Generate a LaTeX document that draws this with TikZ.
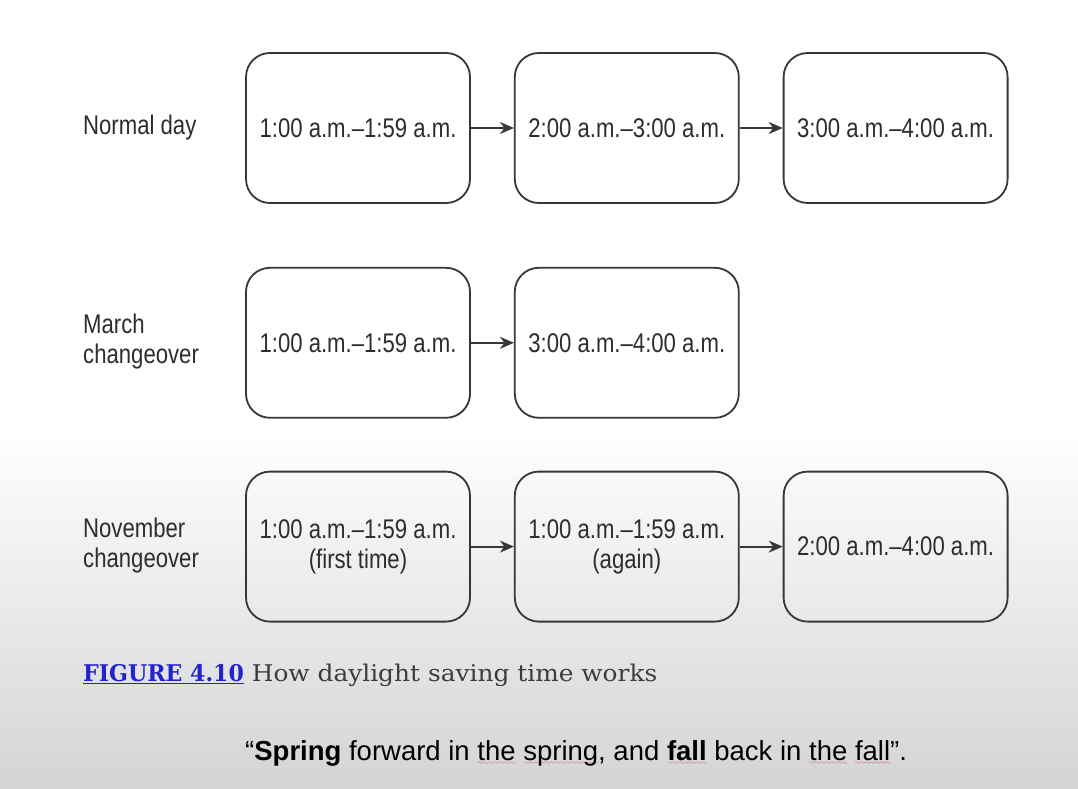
\documentclass[tikz,border=0pt]{standalone}
\usepackage{fontspec}
\setmainfont{Liberation Sans}
\newfontfamily\narrowfont[FakeStretch=0.82]{Liberation Sans}
\newfontfamily\capfont[FakeStretch=1.08]{DejaVu Serif}
\newfontfamily\capboldfont[FakeStretch=0.96]{DejaVu Serif}
\usetikzlibrary{arrows.meta, positioning}
\definecolor{boxline}{RGB}{55,55,55}
\definecolor{boxtext}{RGB}{45,45,45}
\definecolor{figblue}{RGB}{35,35,205}
\definecolor{captext}{RGB}{60,60,60}
\definecolor{bgbottom}{RGB}{212,212,212}
\definecolor{spellred}{RGB}{200,40,40}
\font\wavyfont=lasy6
\newcommand\spellwave[1]{\setbox0\hbox{#1}\rlap{\lower4pt\hbox to\wd0{\color{spellred}\xleaders\hbox{\wavyfont\char58}\hfill}}\box0\relax}

\begin{document}
\begin{tikzpicture}[x=1pt, y=-1pt, node distance=43pt, >=Stealth,
    slot/.style={draw=boxline, line width=1.8pt, rounded corners=24pt,
                 minimum width=224pt, minimum height=150pt, align=center,
                 text=boxtext, font=\narrowfont\fontsize{27}{30}\selectfont},
    rowlabel/.style={anchor=west, align=left, inner sep=0pt,
                     text=boxtext, font=\narrowfont\fontsize{27}{30}\selectfont},
    flow/.style={-{Stealth[length=14pt, width=12pt]}, draw=boxline, line width=1.8pt}]
  % page and background
  \useasboundingbox (0,0) rectangle (1078,789);
  \fill[white] (0,0) rectangle (1078,430);
  \shade[top color=white, bottom color=bgbottom] (0,430) rectangle (1078,789);

  % normal day
  \node[rowlabel] (lnormal) at (83,128) {Normal day};
  \node[slot] (n1) at (358,128) {1:00 a.m.–1:59 a.m.};
  \node[slot, right=of n1] (n2) {2:00 a.m.–3:00 a.m.};
  \node[slot, right=of n2] (n3) {3:00 a.m.–4:00 a.m.};

  % march
  \node[rowlabel] (lmarch) at (83,342) {March\\changeover};
  \node[slot, below=63pt of n1] (m1) {1:00 a.m.–1:59 a.m.};
  \node[slot, right=of m1] (m2) {3:00 a.m.–4:00 a.m.};

  % november
  \node[rowlabel] (lnov) at (83,546) {November\\changeover};
  \node[slot, below=52pt of m1] (v1) {1:00 a.m.–1:59 a.m.\\(first time)};
  \node[slot, right=of v1] (v2) {1:00 a.m.–1:59 a.m.\\(again)};
  \node[slot, right=of v2] (v3) {2:00 a.m.–4:00 a.m.};

  \draw[flow] (n1) -- (n2);
  \draw[flow] (n2) -- (n3);
  \draw[flow] (m1) -- (m2);
  \draw[flow] (v1) -- (v2);
  \draw[flow] (v2) -- (v3);

  % caption and note
  \node[anchor=base west, inner sep=0pt, text=captext,
        font=\capfont\fontsize{23}{26}\selectfont] (caption) at (83,681)
    {{\capboldfont\color{figblue}\bfseries\underline{FIGURE 4.10}} How daylight saving time works};
  \node[anchor=base west, inner sep=0pt, text=black,
        font=\fontsize{27.5}{30}\selectfont] (motto) at (245,760)
    {“\textbf{Spring} forward in \spellwave{the} \spellwave{spring}, and \spellwave{\textbf{fall}} back in \spellwave{the} \spellwave{fall}”.};
\end{tikzpicture}
\end{document}
